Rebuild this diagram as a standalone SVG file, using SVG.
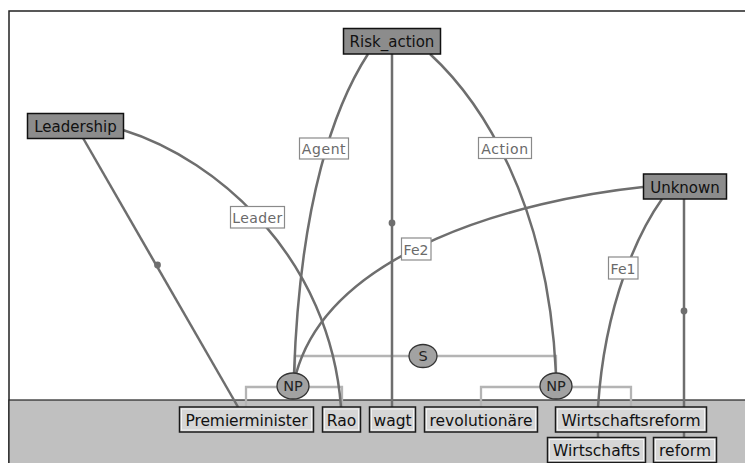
<svg xmlns="http://www.w3.org/2000/svg" width="745" height="463" viewBox="0 0 745 463">
<defs>
<style>
.frame{fill:#ffffff;stroke:#222;stroke-width:1.5}
.band{fill:#c0c0c0;stroke:#222;stroke-width:1.2}
.edge{fill:none;stroke:#6e6e6e;stroke-width:2.5}
.br{fill:none;stroke:#b4b4b4;stroke-width:2.3}
.dot{fill:#6e6e6e}
.frm rect{fill:#8c8c8c;stroke:#111;stroke-width:1.5}
.frm text{font-family:"DejaVu Sans",sans-serif;font-size:15px;fill:#111;text-anchor:middle}
.lbl rect{fill:#fff;stroke:#8a8a8a;stroke-width:1.2}
.lbl text{font-family:"DejaVu Sans",sans-serif;font-size:14px;fill:#6a6a6a;text-anchor:middle}
.word .o{fill:#d6d6d6;stroke:#1a1a1a;stroke-width:1.5}
.word .i{fill:none;stroke:#f4f4f4;stroke-width:1}
.word text{font-family:"DejaVu Sans",sans-serif;font-size:15.5px;fill:#111;text-anchor:middle}
.ph ellipse{fill:#a2a2a2;stroke:#333;stroke-width:1.3}
.ph text{font-family:"DejaVu Sans",sans-serif;font-size:14.5px;fill:#222;text-anchor:middle}
</style>
</defs>
<rect class="frame" x="9" y="11" width="800" height="500"/>
<rect class="band" x="9" y="400" width="800" height="80"/>

<g id="brackets">
<path class="br" d="M295,374 V356 H556 V374"/>
<path class="br" d="M246,407 V387 H342 V407"/>
<path class="br" d="M481,407 V387 H631 V407"/>
</g>

<g id="connectors">
<path class="edge" d="M83,138 L238,407"/>
<circle class="dot" cx="157.5" cy="265" r="3.4"/>
<path class="edge" d="M392,54 V407"/>
<circle class="dot" cx="392" cy="223" r="3.4"/>
<path class="edge" d="M684,199 V438"/>
<circle class="dot" cx="684" cy="311" r="3.4"/>
<path class="edge" d="M368,54 C335,105 300,200 294,374"/>
<path class="edge" d="M430,54 C480,100 548,200 556,374"/>
<path class="edge" d="M123,130 C220,160 330,260 341,407"/>
<path class="edge" d="M643,187 C520,200 330,250 296,374"/>
<path class="edge" d="M662,199 C640,230 605,300 598,407 V438"/>
<g class="lbl">
<rect x="299.5" y="138" width="49" height="21"/><text x="324" y="154" letter-spacing="0.6">Agent</text>
<rect x="478.5" y="137.5" width="53" height="21"/><text x="505" y="154" letter-spacing="0.6">Action</text>
<rect x="230.5" y="206.5" width="54" height="21.5"/><text x="257.5" y="222.5" letter-spacing="0.4">Leader</text>
<rect x="401.5" y="238" width="29.5" height="22"/><text x="416" y="254.5">Fe2</text>
<rect x="608.5" y="257" width="29.5" height="22"/><text x="623" y="273.5">Fe1</text>
</g>
</g>

<g id="Risk_action" class="frm"><rect x="343.5" y="28.5" width="97" height="25.5"/><text x="392" y="47">Risk_action</text></g>
<g id="Leadership" class="frm"><rect x="27.5" y="113.5" width="96" height="25"/><text x="75.5" y="132">Leadership</text></g>
<g id="Unknown" class="frm"><rect x="643.5" y="174" width="83" height="25"/><text x="685" y="192.5">Unknown</text></g>

<g id="S" class="ph"><ellipse cx="423" cy="356" rx="14" ry="11.5"/><text x="423" y="361">S</text></g>
<g id="NP1" class="ph"><ellipse cx="293" cy="386" rx="16" ry="13"/><text x="293" y="391">NP</text></g>
<g id="NP2" class="ph"><ellipse cx="556" cy="386" rx="16" ry="13"/><text x="556" y="391">NP</text></g>

<g id="Premierminister" class="word"><rect class="o" x="179.5" y="407" width="134" height="25"/><rect class="i" x="181.5" y="409" width="130" height="21"/><text x="246.5" y="425.5" textLength="122" lengthAdjust="spacing">Premierminister</text></g>
<g id="Rao" class="word"><rect class="o" x="322.5" y="407" width="38" height="25"/><rect class="i" x="324.5" y="409" width="34" height="21"/><text x="341.5" y="425.5">Rao</text></g>
<g id="wagt" class="word"><rect class="o" x="369.5" y="407" width="46" height="25"/><rect class="i" x="371.5" y="409" width="42" height="21"/><text x="392.5" y="425.5">wagt</text></g>
<g id="revolutionaere" class="word"><rect class="o" x="424.5" y="407" width="113" height="25"/><rect class="i" x="426.5" y="409" width="109" height="21"/><text x="481" y="425.5" textLength="103" lengthAdjust="spacing">revolutionäre</text></g>
<g id="Wirtschaftsreform" class="word"><rect class="o" x="555.5" y="407" width="151" height="25"/><rect class="i" x="557.5" y="409" width="147" height="21"/><text x="631" y="425.5" textLength="139" lengthAdjust="spacing">Wirtschaftsreform</text></g>
<g id="Wirtschafts" class="word"><rect class="o" x="547.5" y="437.5" width="98" height="25"/><rect class="i" x="549.5" y="439.5" width="94" height="21"/><text x="596.5" y="456" textLength="87" lengthAdjust="spacing">Wirtschafts</text></g>
<g id="reform" class="word"><rect class="o" x="653.5" y="437.5" width="63" height="25"/><rect class="i" x="655.5" y="439.5" width="59" height="21"/><text x="685" y="456" textLength="52" lengthAdjust="spacing">reform</text></g>
</svg>
